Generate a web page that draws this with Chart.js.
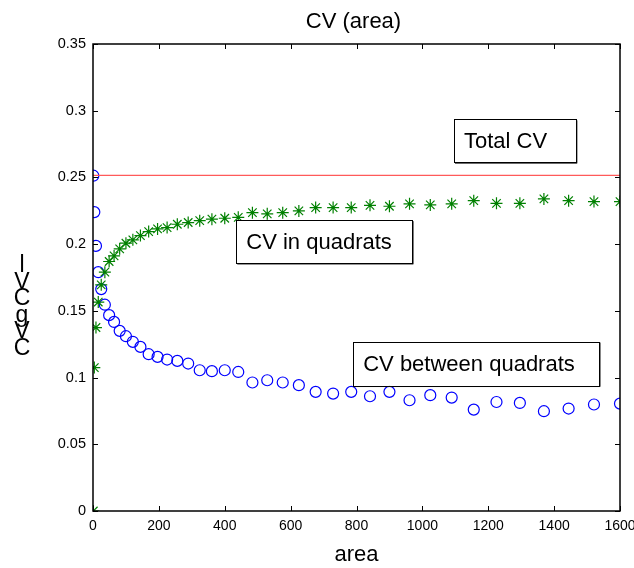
<!DOCTYPE html>
<html>
<head>
<meta charset="utf-8">
<script src="https://cdn.jsdelivr.net/npm/chart.js@4/dist/chart.umd.min.js"></script>
<style>
  html, body { margin: 0; padding: 0; background: #fff; }
  #wrap { width: 634px; height: 568px; }
</style>
</head>
<body>
<div id="wrap"><canvas id="cv"></canvas></div>
<script>
var FONT = '"Liberation Sans", Arial, sans-serif';

// data
var areas = [1, 4, 9, 16, 25, 36, 49, 64, 81, 100, 121, 144, 169, 196, 225, 256, 289, 324, 361, 400,
             441, 484, 529, 576, 625, 676, 729, 784, 841, 900, 961, 1024, 1089, 1156, 1225, 1296, 1369, 1444, 1521, 1600];
var cvBetween = [0.2513, 0.224, 0.1987, 0.179, 0.1663, 0.1546, 0.1468, 0.1417, 0.135, 0.131, 0.1268, 0.1230, 0.1175, 0.1155, 0.1135, 0.1125, 0.1105, 0.1055, 0.1048, 0.1055,
                 0.1042, 0.0963, 0.098, 0.0963, 0.0943, 0.0893, 0.0880, 0.0893, 0.0860, 0.0893, 0.0830, 0.0868, 0.0850, 0.0760, 0.0817, 0.0810, 0.0748, 0.0768, 0.0798, 0.0805];
var cvIn = [0, 0.1075, 0.1375, 0.1566, 0.1695, 0.179, 0.187, 0.1912, 0.1965, 0.2007, 0.2032, 0.2064, 0.2094, 0.2114, 0.2124, 0.2149, 0.2162, 0.2176, 0.2187, 0.2194,
            0.2201, 0.2236, 0.2227, 0.2236, 0.2249, 0.2274, 0.2274, 0.2274, 0.2291, 0.2284, 0.2302, 0.2294, 0.2302, 0.2326, 0.2306, 0.2306, 0.2339, 0.2326, 0.2319, 0.2319];
var totalCV = 0.2515;
var xTicks = [0, 200, 400, 600, 800, 1000, 1200, 1400, 1600];
var xTickLabels = ['0', '200', '400', '600', '800', '1000', '1200', '1400', '1600'];
var yTicks = [0, 0.05, 0.1, 0.15, 0.2, 0.25, 0.3, 0.35];
var yTickLabels = ['0', '0.05', '0.1', '0.15', '0.2', '0.25', '0.3', '0.35'];
var titleText = 'CV (area)';
var xTitle = 'area';
var yTitleChars = ['l', 'V', 'C', 'g', 'V', 'C'];
// text boxes: label, left x and top y in data units
var notes = [
    { text: 'Total CV', x: 1096, y: 0.2935, w: 122, h: 43 },
    { text: 'CV in quadrats', x: 435, y: 0.218, w: 176, h: 43 },
    { text: 'CV between quadrats', x: 790, y: 0.127, w: 246, h: 44 }
];

function pts(xs, ys) {
    return xs.map(function(x, i) { return { x: x, y: ys[i] }; });
}

var decor = {
    id: 'decor',
    afterDatasetsDraw: function(chart) {
        var ctx = chart.ctx, a = chart.chartArea;
        var xs = chart.scales.x, ys = chart.scales.y;
        ctx.save();
        // box
        ctx.strokeStyle = '#000';
        ctx.lineWidth = 1.5;
        ctx.strokeRect(a.left, a.top, a.right - a.left, a.bottom - a.top);
        // inward ticks
        ctx.lineWidth = 1;
        ctx.beginPath();
        xTicks.forEach(function(v) {
            var px = Math.round(xs.getPixelForValue(v)) + 0.5;
            ctx.moveTo(px, a.bottom); ctx.lineTo(px, a.bottom - 5);
            ctx.moveTo(px, a.top); ctx.lineTo(px, a.top + 5);
        });
        yTicks.forEach(function(v) {
            var py = Math.round(ys.getPixelForValue(v)) + 0.5;
            ctx.moveTo(a.left, py); ctx.lineTo(a.left + 5, py);
            ctx.moveTo(a.right, py); ctx.lineTo(a.right - 5, py);
        });
        ctx.stroke();
        // text boxes
        notes.forEach(function(n) {
            var l = xs.getPixelForValue(n.x), t = ys.getPixelForValue(n.y);
            ctx.fillStyle = '#fff';
            ctx.fillRect(l, t, n.w, n.h);
            ctx.strokeStyle = '#555';
            ctx.lineWidth = 1;
            ctx.beginPath();
            ctx.moveTo(l + n.w + 1, t + 1); ctx.lineTo(l + n.w + 1, t + n.h + 1); ctx.lineTo(l + 1, t + n.h + 1);
            ctx.stroke();
            ctx.strokeStyle = '#000';
            ctx.strokeRect(Math.round(l) + 0.5, Math.round(t) + 0.5, n.w, n.h);
            ctx.fillStyle = '#000';
            ctx.font = '22px ' + FONT;
            ctx.textBaseline = 'middle';
            ctx.textAlign = 'left';
            ctx.fillText(n.text, l + 10, t + n.h / 2 + 1);
        });
        // title
        ctx.font = '22px ' + FONT;
        ctx.textAlign = 'center';
        ctx.textBaseline = 'alphabetic';
        ctx.fillText(titleText, (a.left + a.right) / 2 - 3, 28);
        // x title
        ctx.font = '22px ' + FONT;
        ctx.fillText(xTitle, (a.left + a.right) / 2, 561);
        // stacked y title
        ctx.font = '23px ' + FONT;
        ctx.textBaseline = 'middle';
        yTitleChars.forEach(function(c, i) {
            ctx.fillText(c, 22, 266 + i * 16.5);
        });
        ctx.restore();
    }
};

new Chart(document.getElementById('cv'), {
    type: 'scatter',
    data: {
        datasets: [{
            label: 'Total CV',
            data: [{ x: 0, y: totalCV }, { x: 1600, y: totalCV }],
            showLine: true,
            borderColor: 'rgb(255, 90, 90)',
            borderWidth: 1.3,
            pointRadius: 0
        }, {
            label: 'CV in quadrats',
            data: pts(areas, cvIn),
            pointStyle: 'star',
            pointRadius: 6,
            borderColor: 'rgb(0, 128, 0)',
            backgroundColor: 'rgb(0, 128, 0)',
            borderWidth: 1.2
        }, {
            label: 'CV between quadrats',
            data: pts(areas, cvBetween),
            pointStyle: 'circle',
            pointRadius: 5.5,
            borderColor: 'rgb(0, 0, 255)',
            backgroundColor: 'rgba(0,0,0,0)',
            borderWidth: 1.2
        }]
    },
    options: {
        responsive: true,
        maintainAspectRatio: false,
        animation: false,
        events: [],
        layout: { padding: { top: 44, right: 14, left: 0, bottom: 0 } },
        plugins: { legend: { display: false }, tooltip: { enabled: false }, title: { display: false } },
        scales: {
            x: {
                type: 'linear', min: 0, max: 1600,
                afterBuildTicks: function(s) { s.ticks = xTicks.map(function(v) { return { value: v }; }); },
                grid: { display: false, drawTicks: false },
                border: { display: false },
                ticks: {
                    color: '#000', font: { family: FONT, size: 14 }, padding: 7, maxRotation: 0,
                    callback: function(v) { var i = xTicks.indexOf(v); return i >= 0 ? xTickLabels[i] : ''; }
                },
                afterFit: function(s) { s.height = 57; s.paddingLeft = 0; s.paddingRight = 0; }
            },
            y: {
                type: 'linear', min: 0, max: 0.35,
                afterBuildTicks: function(s) { s.ticks = yTicks.map(function(v) { return { value: v }; }); },
                grid: { display: false, drawTicks: false },
                border: { display: false },
                ticks: {
                    color: '#000', font: { family: FONT, size: 14.5 }, padding: 7,
                    callback: function(v) { var i = yTicks.indexOf(v); return i >= 0 ? yTickLabels[i] : ''; }
                },
                afterFit: function(s) { s.width = 93; }
            }
        }
    },
    plugins: [decor]
});
</script>
</body>
</html>
